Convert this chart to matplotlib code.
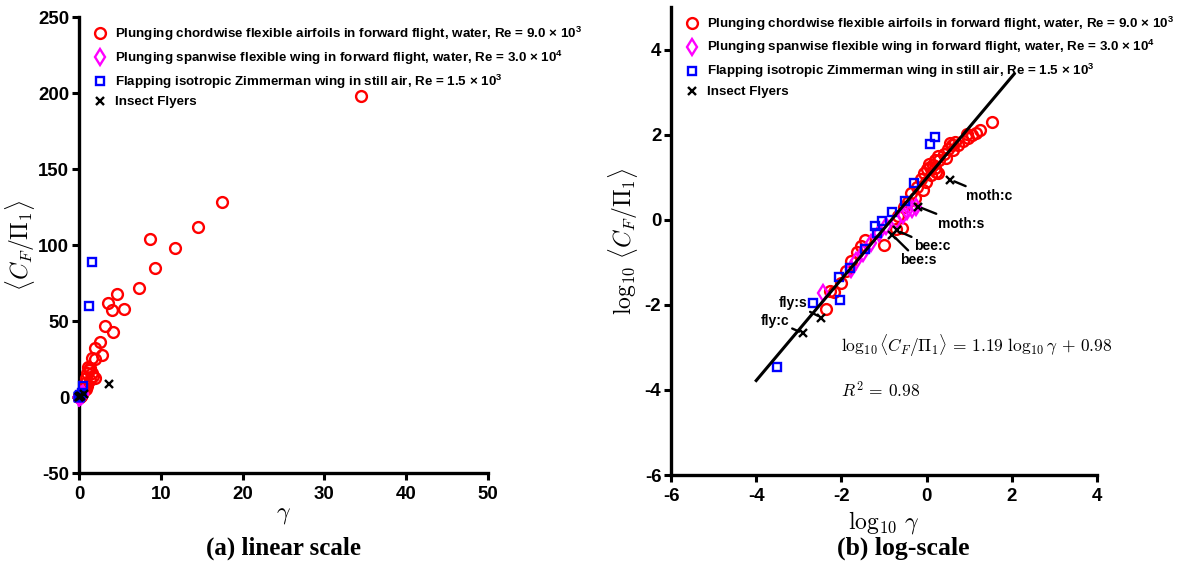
import numpy as np
import matplotlib
matplotlib.use('Agg')
import matplotlib.pyplot as plt
from matplotlib.lines import Line2D

plt.rcParams['font.family'] = ['Liberation Sans', 'DejaVu Sans']
plt.rcParams['font.weight'] = 'bold'
plt.rcParams['axes.unicode_minus'] = False
plt.rcParams['mathtext.fontset'] = 'custom'
plt.rcParams['mathtext.rm'] = 'Liberation Sans:bold'
plt.rcParams['mathtext.bf'] = 'Liberation Sans:bold'
plt.rcParams['mathtext.it'] = 'Liberation Sans:bold:italic'
plt.rcParams['mathtext.sf'] = 'Liberation Sans:bold'

# ---------------- data (gamma, <C_F/Pi_1>) ----------------
red_gamma = [34.5, 17.5, 14.5, 11.7, 9.3, 8.7, 7.3, 5.5, 4.7, 4.0, 3.6, 4.1, 3.2,
             2.8, 2.6, 1.9, 1.6, 2.0, 1.4, 1.6, 1.9, 1.66, 1.23, 1.0, 1.12, 1.3,
             0.89, 0.72, 0.81, 0.59, 0.95, 0.44, 0.52, 0.29, 0.36, 0.21, 0.19,
             0.26, 0.10, 0.035, 0.029, 0.023, 0.017, 0.0126, 0.010, 0.0068,
             0.0043, 0.0055]
red_cf = [198, 128, 112, 98, 85, 104, 72, 58, 68, 57, 62, 43, 47,
          27.5, 36, 32, 25.5, 25, 19, 16, 12.5, 13.5, 17.8, 15.5, 20, 11,
          12.3, 9.3, 5.0, 6.0, 7.5, 4.2, 3.2, 2.0, 2.6, 1.2, 0.59,
          0.63, 0.26, 0.34, 0.24, 0.17, 0.11, 0.062, 0.032, 0.0195,
          0.0081, 0.021]

mag_gamma = [0.0038, 0.017, 0.022, 0.032, 0.050, 0.076, 0.112, 0.195, 0.28,
             0.355, 0.447, 0.55]
mag_cf = [0.019, 0.068, 0.107, 0.166, 0.28, 0.49, 0.71, 0.91, 1.32, 1.58, 1.78,
          2.04]

blue_gamma = [1.58, 1.17, 0.50, 0.316, 0.155, 0.091, 0.063, 0.068, 0.035,
              0.0155, 0.0087, 0.0022, 0.0095, 0.0003]
blue_cf = [89, 60, 7.2, 2.75, 1.48, 0.95, 0.72, 0.49, 0.20, 0.074, 0.044,
           0.011, 0.0129, 0.00034]

insect_names = ['fly:c', 'fly:s', 'bee:s', 'bee:c', 'moth:s', 'moth:c']
insect_gamma = [0.00126, 0.0034, 0.155, 0.20, 0.63, 3.63]
insect_cf = [0.00214, 0.0050, 0.447, 0.56, 2.04, 8.7]

fit_slope = 1.19
fit_intercept = 0.98
fit_r2 = 0.98
fit_range = [-4.0, 2.05]

legend_labels = [
    'Plunging chordwise flexible airfoils in forward flight, water, Re = 9.0 \u00d7 10$^{\\mathbf{3}}$',
    'Plunging spanwise flexible wing in forward flight, water, Re = 3.0 \u00d7 10$^{\\mathbf{4}}$',
    'Flapping isotropic Zimmerman wing in still air, Re = 1.5 \u00d7 10$^{\\mathbf{3}}$',
    'Insect Flyers',
]

# label placement (log-log coordinates) for insect annotations
insect_text_pos = [(-3.22, -2.38, 'right'), (-2.80, -1.96, 'right'),
                   (-0.63, -0.95, 'left'), (-0.29, -0.62, 'left'),
                   (0.26, -0.09, 'left'), (0.92, 0.56, 'left')]

# ---------------- figure ----------------
W, H = 1192, 566
fig = plt.figure(figsize=(W / 100, H / 100), dpi=100)
ax1 = fig.add_axes([79 / W, 1 - 473 / H, 409 / W, 456 / H])
ax2 = fig.add_axes([671 / W, 1 - 475 / H, 426 / W, 468 / H])

styles = [
    dict(marker='o', ms=7.8, mfc='none', mec='#ff0000', mew=1.7, ls='none'),
    dict(marker='d', ms=7.8, mfc='none', mec='#ff00ff', mew=1.7, ls='none'),
    dict(marker='s', ms=6.2, mfc='none', mec='#0000ff', mew=1.7, ls='none'),
    dict(marker='x', ms=5.5, mfc='none', mec='black', mew=1.7, ls='none'),
]


def style_axes(ax):
    for s in ['top', 'right']:
        ax.spines[s].set_visible(False)
    for s in ['left', 'bottom']:
        ax.spines[s].set_linewidth(2.4)
    ax.tick_params(direction='out', length=5, width=2.2, labelsize=13.4)
    ax.tick_params(axis='x', pad=4.5)
    ax.tick_params(axis='y', pad=2)
    for lab in ax.get_xticklabels() + ax.get_yticklabels():
        lab.set_fontweight('bold')


series = [(red_gamma, red_cf), (mag_gamma, mag_cf), (blue_gamma, blue_cf),
          (insect_gamma, insect_cf)]

# ---- (a) linear ----
for (g, c), st in zip(series, styles):
    ax1.plot(g, c, clip_on=False, zorder=3, **st)
ax1.set_xlim(0, 50)
ax1.set_ylim(-50, 250)
ax1.set_xticks(np.arange(0, 51, 10))
ax1.set_yticks(np.arange(-50, 251, 50))
style_axes(ax1)
ax1.set_xlabel(r'$\gamma$', fontsize=17, math_fontfamily='cm')
ax1.set_ylabel(r'$\langle C_F/\Pi_1\rangle$', fontsize=17, math_fontfamily='cm')
ax1.xaxis.set_label_coords(0.5, -0.068)
ax1.yaxis.set_label_coords(-0.103, 0.5)

# ---- (b) log ----
for (g, c), st in zip(series, styles):
    ax2.plot(np.log10(g), np.log10(c), clip_on=False, zorder=3, **st)
fx = np.array(fit_range)
ax2.plot(fx, fit_slope * fx + fit_intercept, color='black', lw=2.2, zorder=4)
ax2.set_xlim(-6, 4)
ax2.set_ylim(-6, 5)
ax2.set_xticks(np.arange(-6, 5, 2))
ax2.set_yticks(np.arange(-6, 5, 2))
style_axes(ax2)
ax2.set_xlabel(r'$\log_{10}\,\gamma$', fontsize=17, math_fontfamily='cm')
ax2.set_ylabel(r'$\log_{10}\,\langle C_F/\Pi_1\rangle$', fontsize=17,
               math_fontfamily='cm')
ax2.xaxis.set_label_coords(0.5, -0.073)
ax2.yaxis.set_label_coords(-0.072, 0.5)

for name, g, c, (tx, ty, ha) in zip(insect_names, insect_gamma, insect_cf,
                                    insect_text_pos):
    ax2.annotate(name, xy=(np.log10(g), np.log10(c)), xytext=(tx, ty),
                 ha=ha, va='center', fontsize=10, fontweight='bold',
                 arrowprops=dict(arrowstyle='-', lw=1.7, color='black',
                                 shrinkA=0, shrinkB=3), zorder=5)

eq = (r'$\log_{10}\langle C_F/\Pi_1\rangle \,=\, %.2f\ \log_{10}\gamma \,+\, %.2f$'
      % (fit_slope, fit_intercept))
ax2.text(-2.0, -2.97, eq, fontsize=12.5, math_fontfamily='cm', ha='left',
         va='center')
ax2.text(-2.0, -4.02, r'$R^2 \,=\, %.2f$' % fit_r2, fontsize=12.5,
         math_fontfamily='cm', ha='left', va='center')

# ---- legends ----
handles = [Line2D([], [], **st) for st in styles]
for ax, anchor in [(ax1, (0.035, 0.983)), (ax2, (0.034, 0.984))]:
    ax.legend(handles, legend_labels, loc='upper left',
              bbox_to_anchor=anchor, frameon=False, borderpad=0,
              borderaxespad=0, handlelength=1.0, handletextpad=0.62,
              labelspacing=0.42,
              prop=dict(family='Liberation Sans', weight='bold', size=9.6))

# ---- panel captions ----
fig.text(284 / W, 1 - 548 / H, '(a) linear scale', family='Liberation Serif',
         fontweight='bold', fontsize=18, ha='center', va='center')
fig.text(903 / W, 1 - 548 / H, '(b) log-scale', family='Liberation Serif',
         fontweight='bold', fontsize=18.5, ha='center', va='center')

fig.savefig('out.png', dpi=100)
